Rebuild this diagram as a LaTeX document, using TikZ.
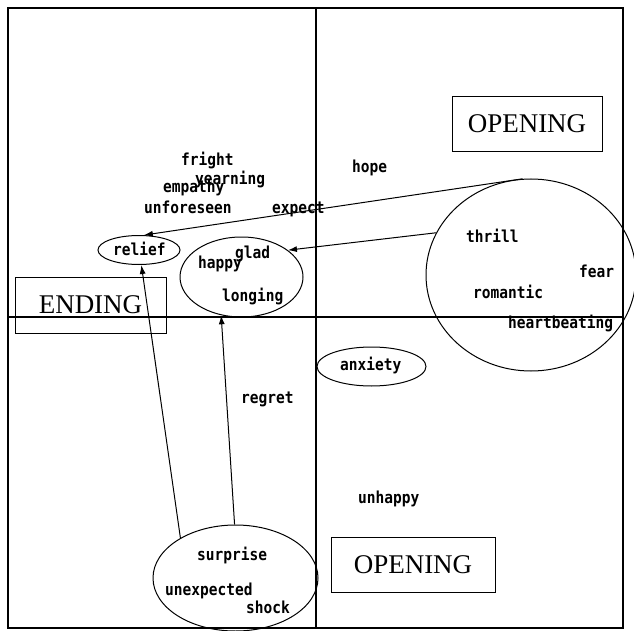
\documentclass[tikz,border=0pt]{standalone}
\usepackage{fontspec}
\setmainfont{Liberation Serif}
\newfontfamily\wordfont[FakeStretch=0.88]{DejaVu Sans Mono}
\usetikzlibrary{shapes.geometric,arrows.meta}
\begin{document}
\begin{tikzpicture}[x=1pt,y=-1pt,
  word/.style={anchor=base west,inner sep=0pt,font=\wordfont\bfseries\fontsize{16.5}{17}\selectfont},
  ell/.style={ellipse,draw,line width=1pt,inner sep=0pt},
  titlebox/.style={draw,line width=1pt,font=\fontsize{27}{27}\selectfont,inner sep=0pt},
  arr/.style={line width=1pt,-{Latex[length=9pt,width=6pt]}}]
\useasboundingbox (0,0) rectangle (634,631);
% frame and axes
\draw[line width=1.2pt] (8,8) rectangle (623,628);
\draw[line width=1.1pt] (8,317) -- (623,317);
\draw[line width=1.1pt] (316,8) -- (316,628);
% title boxes
\node[titlebox,minimum width=150pt,minimum height=55pt] (open1) at (527,124) {OPENING};
\node[titlebox,minimum width=151pt,minimum height=56pt] (ending) at (90.5,305) {ENDING};
\node[titlebox,minimum width=164pt,minimum height=55pt] (open2) at (413,564.5) {OPENING};
% ellipses
\node[ell,minimum width=82pt,minimum height=29pt] (relief) at (139,250) {};
\node[ell,minimum width=123pt,minimum height=80pt] (joy) at (241.5,277) {};
\node[ell,minimum width=210pt,minimum height=192pt] (big) at (531,275) {};
\node[ell,minimum width=109pt,minimum height=39pt] (anx) at (371.5,366.5) {};
\node[ell,minimum width=165pt,minimum height=106pt] (surp) at (235.5,578) {};
% words
\node[word] (w1) at (181,166) {fright};
\node[word] (w2) at (195,185) {yearning};
\node[word] (w3) at (163,193) {empathy};
\node[word] (w4) at (144,213) {unforeseen};
\node[word] (w5) at (272,213) {expect};
\node[word] (w6) at (352,173) {hope};
\node[word] (w7) at (113,255) {relief};
\node[word] (w8) at (235,258) {glad};
\node[word] (w9) at (198,268) {happy};
\node[word] (w10) at (222,301) {longing};
\node[word] (w11) at (466,242) {thrill};
\node[word] (w12) at (579,277) {fear};
\node[word] (w13) at (473,298) {romantic};
\node[word] (w14) at (508,328) {heartbeating};
\node[word] (w15) at (340,370) {anxiety};
\node[word] (w16) at (241,403) {regret};
\node[word] (w17) at (358,503) {unhappy};
\node[word] (w18) at (197,560) {surprise};
\node[word] (w19) at (165,595) {unexpected};
\node[word] (w20) at (246,613) {shock};
% arrows
\draw[arr] (big.95) -- (relief.72);
\draw[arr] (big.156) -- (joy.30);
\draw[arr] (surp.144) -- (relief.279);
\draw[arr] (surp.91) -- (joy.242);
\end{tikzpicture}
\end{document}
